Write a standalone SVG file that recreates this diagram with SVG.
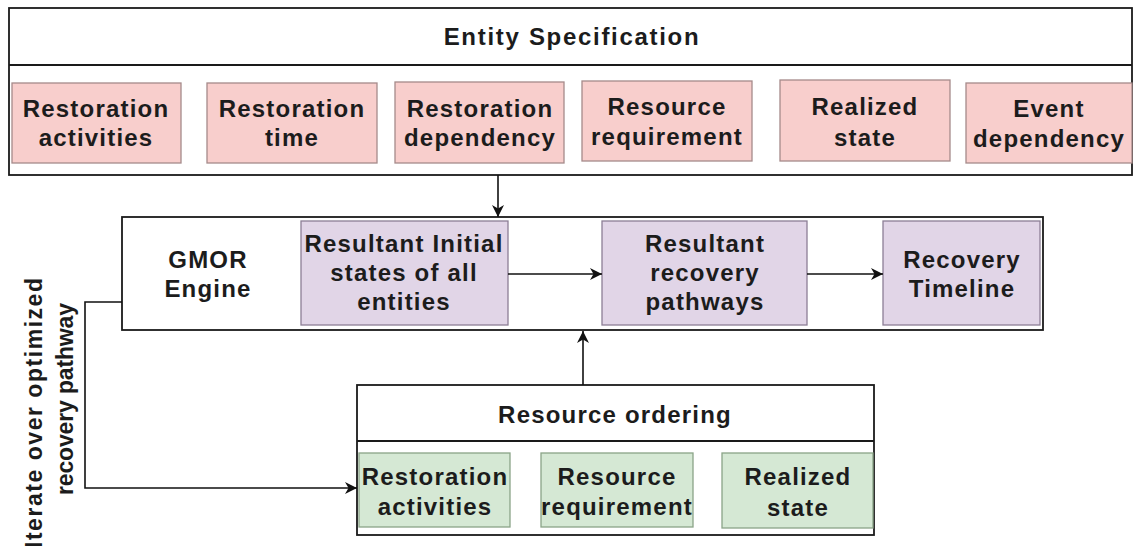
<svg xmlns="http://www.w3.org/2000/svg" width="1138" height="546" viewBox="0 0 1138 546">
  <style>
    .frame { fill: #ffffff; stroke: #1a1a1a; stroke-width: 1.8; }
    .pink { fill: #f8cecc; stroke: #a58a8a; stroke-width: 1.3; }
    .purple { fill: #e1d5e7; stroke: #8c7f96; stroke-width: 1.3; }
    .green { fill: #d5e8d4; stroke: #8aa487; stroke-width: 1.3; }
    .lbl { font-family: "Liberation Sans", Arial, sans-serif; font-size: 24px; font-weight: bold; letter-spacing: 1.2px; fill: #1c1c1c; text-anchor: middle; }
    .title { letter-spacing: 1.7px; }
    .side { font-family: "Liberation Sans", Arial, sans-serif; font-size: 23px; font-weight: bold; fill: #1c1c1c; text-anchor: middle; }
    .edge { fill: none; stroke: #111111; stroke-width: 1.6; }
  </style>
  <defs>
    <marker id="arrow" markerUnits="userSpaceOnUse" viewBox="0 0 12 12" refX="12" refY="6" markerWidth="12" markerHeight="12" orient="auto">
      <path d="M0,0 L12,6 L0,12 L3.5,6 Z" fill="#111111"/>
    </marker>
  </defs>

  <rect width="1138" height="546" fill="#ffffff"/>

  <!-- Entity Specification swimlane -->
  <g id="entity-specification">
    <rect class="frame" x="9" y="8" width="1123" height="167"/>
    <line class="frame" x1="9" y1="65" x2="1132" y2="65"/>
    <text class="lbl title" x="572" y="45">Entity Specification</text>
  </g>
  <g id="es-restoration-activities">
    <rect class="pink" x="12" y="83" width="169" height="80"/>
    <text class="lbl" x="96" y="117">Restoration</text>
    <text class="lbl" x="96" y="146">activities</text>
  </g>
  <g id="es-restoration-time">
    <rect class="pink" x="207" y="83" width="170" height="80"/>
    <text class="lbl" x="292" y="117">Restoration</text>
    <text class="lbl" x="292" y="146">time</text>
  </g>
  <g id="es-restoration-dependency">
    <rect class="pink" x="395" y="82" width="169" height="81"/>
    <text class="lbl" x="480" y="117">Restoration</text>
    <text class="lbl" x="480" y="146">dependency</text>
  </g>
  <g id="es-resource-requirement">
    <rect class="pink" x="582" y="81" width="170" height="80"/>
    <text class="lbl" x="667" y="115">Resource</text>
    <text class="lbl" x="667" y="145">requirement</text>
  </g>
  <g id="es-realized-state">
    <rect class="pink" x="780" y="80" width="170" height="81"/>
    <text class="lbl" x="865" y="115">Realized</text>
    <text class="lbl" x="865" y="146">state</text>
  </g>
  <g id="es-event-dependency">
    <rect class="pink" x="966" y="83" width="166" height="80"/>
    <text class="lbl" x="1049" y="117">Event</text>
    <text class="lbl" x="1049" y="147">dependency</text>
  </g>

  <!-- GMOR Engine swimlane -->
  <g id="gmor-engine">
    <rect class="frame" x="122" y="217" width="921" height="113"/>
    <text class="lbl" x="208" y="268">GMOR</text>
    <text class="lbl" x="208" y="297">Engine</text>
  </g>
  <g id="initial-states">
    <rect class="purple" x="301" y="221" width="207" height="104"/>
    <text class="lbl" x="404" y="252">Resultant Initial</text>
    <text class="lbl" x="404" y="281">states of all</text>
    <text class="lbl" x="404" y="310">entities</text>
  </g>
  <g id="recovery-pathways">
    <rect class="purple" x="602" y="221" width="205" height="104"/>
    <text class="lbl" x="705" y="252">Resultant</text>
    <text class="lbl" x="705" y="281">recovery</text>
    <text class="lbl" x="705" y="310">pathways</text>
  </g>
  <g id="recovery-timeline">
    <rect class="purple" x="883" y="221" width="157" height="104"/>
    <text class="lbl" x="962" y="268">Recovery</text>
    <text class="lbl" x="962" y="297">Timeline</text>
  </g>

  <!-- Resource ordering swimlane -->
  <g id="resource-ordering">
    <rect class="frame" x="357" y="385" width="517" height="150"/>
    <line class="frame" x1="357" y1="441" x2="874" y2="441"/>
    <text class="lbl" x="615" y="423">Resource ordering</text>
  </g>
  <g id="ro-restoration-activities">
    <rect class="green" x="359" y="453" width="151" height="74"/>
    <text class="lbl" x="435" y="485">Restoration</text>
    <text class="lbl" x="435" y="515">activities</text>
  </g>
  <g id="ro-resource-requirement">
    <rect class="green" x="541" y="453" width="152" height="74"/>
    <text class="lbl" x="617" y="485">Resource</text>
    <text class="lbl" x="617" y="515">requirement</text>
  </g>
  <g id="ro-realized-state">
    <rect class="green" x="722" y="453" width="151" height="75"/>
    <text class="lbl" x="798" y="485">Realized</text>
    <text class="lbl" x="798" y="516">state</text>
  </g>

  <!-- Connectors -->
  <g id="connectors">
    <path class="edge" d="M498,175 L498,217" marker-end="url(#arrow)"/>
    <path class="edge" d="M508,274 L602,274" marker-end="url(#arrow)"/>
    <path class="edge" d="M807,274 L883,274" marker-end="url(#arrow)"/>
    <path class="edge" d="M583,385 L583,331" marker-end="url(#arrow)"/>
    <path class="edge" d="M122,302 L85,302 L85,488 L357,488" marker-end="url(#arrow)"/>
    <text class="side" transform="translate(42,413) rotate(-90)" textLength="270" lengthAdjust="spacing">Iterate over optimized</text>
    <text class="side" transform="translate(73,399) rotate(-90)" textLength="192" lengthAdjust="spacing">recovery pathway</text>
  </g>
</svg>
